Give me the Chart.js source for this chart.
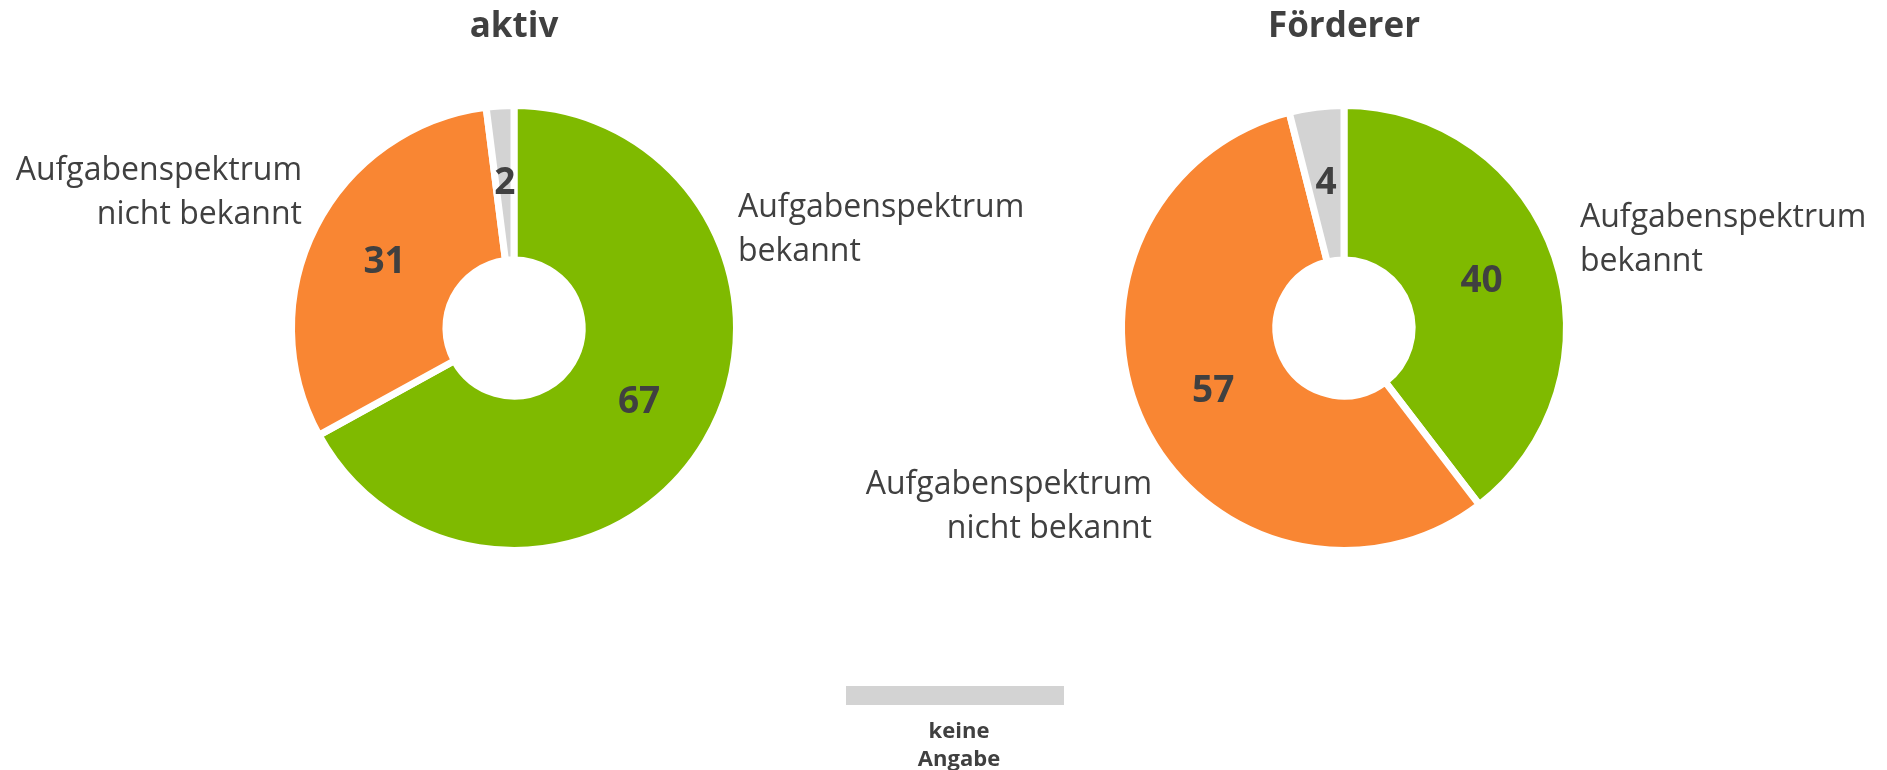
<!DOCTYPE html>
<html>
<head>
<meta charset="utf-8">
<script src="https://cdn.jsdelivr.net/npm/chart.js@4/dist/chart.umd.min.js"></script>
<style>
  body { margin: 0; background: #fff; font-family: 'Open Sans', sans-serif; }
  #wrap { position: relative; width: 1887px; height: 770px; overflow: hidden; }
  .box { position: absolute; left: 0; top: 0; width: 1887px; height: 770px; }
  #legendBar { position: absolute; left: 846px; top: 686px; width: 218px; height: 19px; }
  #legendText { position: absolute; left: 859px; top: 715px; width: 200px; text-align: center;
    font: bold 22px/28px 'Open Sans', sans-serif; color: #404040; }
</style>
</head>
<body>
<div id="wrap">
  <div class="box"><canvas id="aktivChart"></canvas></div>
  <div class="box"><canvas id="foerdererChart"></canvas></div>
  <div id="legendBar"></div>
  <div id="legendText">keine<br>Angabe</div>
</div>
<script>
let categories = ['Aufgabenspektrum bekannt', 'Aufgabenspektrum nicht bekannt', 'keine Angabe'];
let aktivValues = [67, 31, 2];
let foerdererValues = [40, 57, 4];
let colors = ['#7FBA00', '#F98633', '#D3D3D3'];
let textColor = '#404040';

document.getElementById('legendBar').style.background = colors[2];

// label lines + offsets from the donut centre (layout only)
let aktivLabels = [
	{ lines: ['Aufgabenspektrum', 'bekannt'], dx: 224, dy: -111, align: 'left' },
	{ lines: ['Aufgabenspektrum', 'nicht bekannt'], dx: -212, dy: -148, align: 'right' }
];
let foerdererLabels = [
	{ lines: ['Aufgabenspektrum', 'bekannt'], dx: 236, dy: -101, align: 'left' },
	{ lines: ['Aufgabenspektrum', 'nicht bekannt'], dx: -192, dy: 166, align: 'right' }
];

let donutText = {
	id: 'donutText',
	afterDraw(chart, args, opts) {
		let ctx = chart.ctx;
		let meta = chart.getDatasetMeta(0);
		let cx = meta.data[0].x, cy = meta.data[0].y;
		ctx.save();
		ctx.fillStyle = textColor;

		// title
		ctx.font = 'bold 35px "Open Sans"';
		ctx.textAlign = 'center';
		ctx.textBaseline = 'alphabetic';
		ctx.fillText(opts.title, cx, 37);

		// values in the ring
		ctx.font = 'bold 37px "Open Sans"';
		ctx.textBaseline = 'middle';
		meta.data.forEach((arc, i) => {
			let p = arc.tooltipPosition();
			ctx.fillText(chart.data.datasets[0].data[i], p.x, p.y);
		});

		// category labels
		ctx.font = '32px "Open Sans"';
		ctx.textBaseline = 'alphabetic';
		opts.labels.forEach(l => {
			ctx.textAlign = l.align;
			l.lines.forEach((line, j) => {
				ctx.fillText(line, cx + l.dx, cy + l.dy + j * 44);
			});
		});
		ctx.restore();
	}
};

function makeDonut(id, values, title, labels, padding) {
	new Chart(document.getElementById(id), {
		type: 'doughnut',
		data: {
			labels: categories,
			datasets: [{
				data: values,
				backgroundColor: colors,
				borderColor: '#ffffff',
				borderWidth: 7
			}]
		},
		options: {
			responsive: true,
			maintainAspectRatio: false,
			animation: false,
			cutout: '30.6%',
			layout: { padding: padding },
			plugins: {
				legend: { display: false },
				tooltip: { enabled: false },
				donutText: { title: title, labels: labels }
			}
		},
		plugins: [donutText]
	});
}

makeDonut('aktivChart', aktivValues, 'aktiv', aktivLabels, { left: 288, right: 1147, top: 102, bottom: 216 });
makeDonut('foerdererChart', foerdererValues, 'Förderer', foerdererLabels, { left: 1118, right: 317, top: 102, bottom: 216 });
</script>
</body>
</html>
